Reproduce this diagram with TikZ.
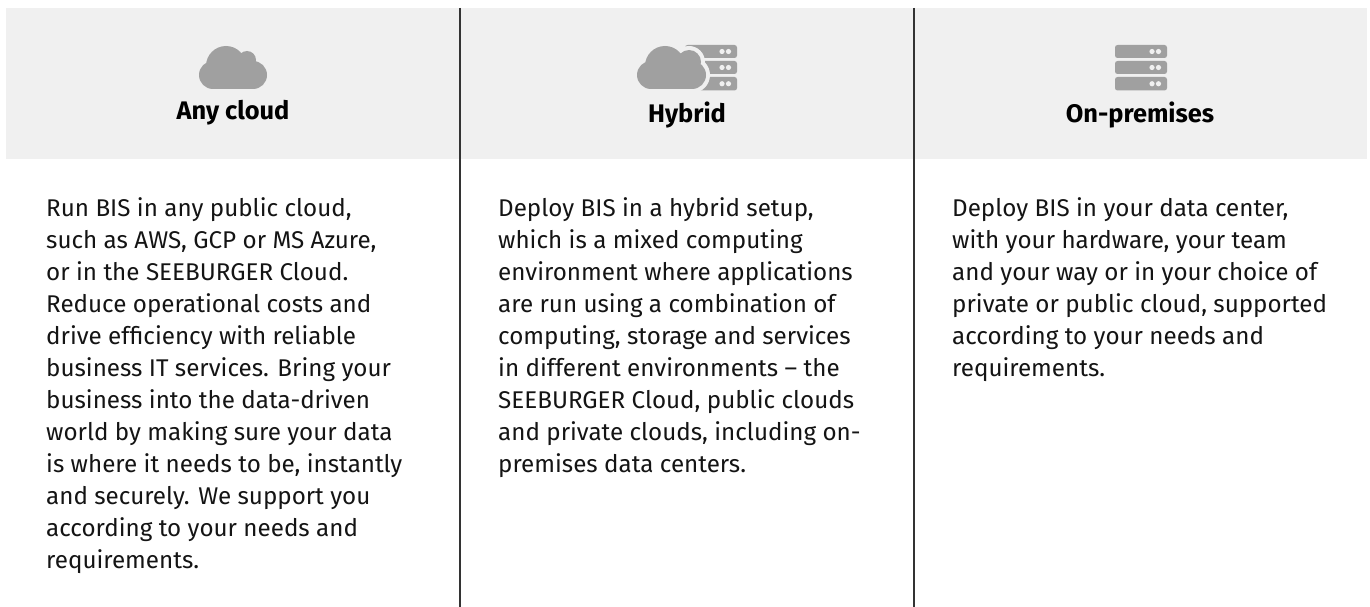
\documentclass[tikz,border=0pt]{standalone}
\usepackage{fontspec}
\setmainfont{Fira Sans}
\definecolor{band}{HTML}{F0F0F0}
\definecolor{icon}{HTML}{A0A0A0}
\tikzset{x=1pt,y=-1pt,
  title/.style={anchor=base,inner sep=0pt,font=\fontsize{25.4}{28}\selectfont\bfseries,text=black},
  body/.style={anchor=base west,align=left,inner sep=0pt,font=\fontsize{24.2}{32}\selectfont,text=black!92},
  divider/.style={line width=1.2pt,draw=black!80},
  srv/.style={fill=icon,rounded corners=2.5pt},
  dot/.style={fill=band}}
\newcommand{\srvrow}[3]{%
  \fill[srv] (#1,#2) rectangle (#1+52,#3);
  \fill[dot] (#1+37,{(#2+#3)/2}) circle[radius=2.6];
  \fill[dot] (#1+43.5,{(#2+#3)/2}) circle[radius=2.6];}
\begin{document}
\begin{tikzpicture}
\useasboundingbox (0,0) rectangle (1370,607);
\fill[white] (0,0) rectangle (1370,607);
\fill[band] (6,8) rectangle (1367,159);
\draw[divider] (460,8) -- (460,607);
\draw[divider] (914,8) -- (914,607);
% any cloud icon
\fill[icon] (213,75) circle[radius=14] (253,75) circle[radius=14] (226,66) circle[radius=20] (247,60) circle[radius=9];
\fill[icon] (213,72) rectangle (253,89);
% hybrid icon
\srvrow{685}{45}{58}
\srvrow{685}{61}{74}
\srvrow{685}{77}{90.5}
\fill[band] (651,75) circle[radius=18] (692,75) circle[radius=18] (665,66) circle[radius=24] (689,62) circle[radius=16];
\fill[band] (651,72) rectangle (692,93);
\fill[icon] (651,75) circle[radius=14] (692,75) circle[radius=14] (665,66) circle[radius=20] (689,62) circle[radius=12];
\fill[icon] (651,72) rectangle (692,89);
% server icon
\srvrow{1115}{45}{58}
\srvrow{1115}{61}{74}
\srvrow{1115}{77}{90.5}
\node[title] (t1) at (233,120) {Any cloud};
\node[title] (t2) at (687,123) {Hybrid};
\node[title] (t3) at (1140,123) {On-premises};
\node[body] (b1) at (46,568) {Run BIS in any public cloud,\\such as AWS, GCP or MS Azure,\\or in the SEEBURGER Cloud.\\Reduce operational costs and\\drive efficiency with reliable\\business IT services. Bring your\\business into the data-driven\\world by making sure your data\\is where it needs to be, instantly\\and securely. We support you\\according to your needs and\\requirements.};
\node[body] (b2) at (498,472) {Deploy BIS in a hybrid setup,\\which is a mixed computing\\environment where applications\\are run using a combination of\\computing, storage and services\\in different environments – the\\SEEBURGER Cloud, public clouds\\and private clouds, including on-\\premises data centers.};
\node[body] (b3) at (952,376) {Deploy BIS in your data center,\\with your hardware, your team\\and your way or in your choice of\\private or public cloud, supported\\according to your needs and\\requirements.};
\end{tikzpicture}
\end{document}
